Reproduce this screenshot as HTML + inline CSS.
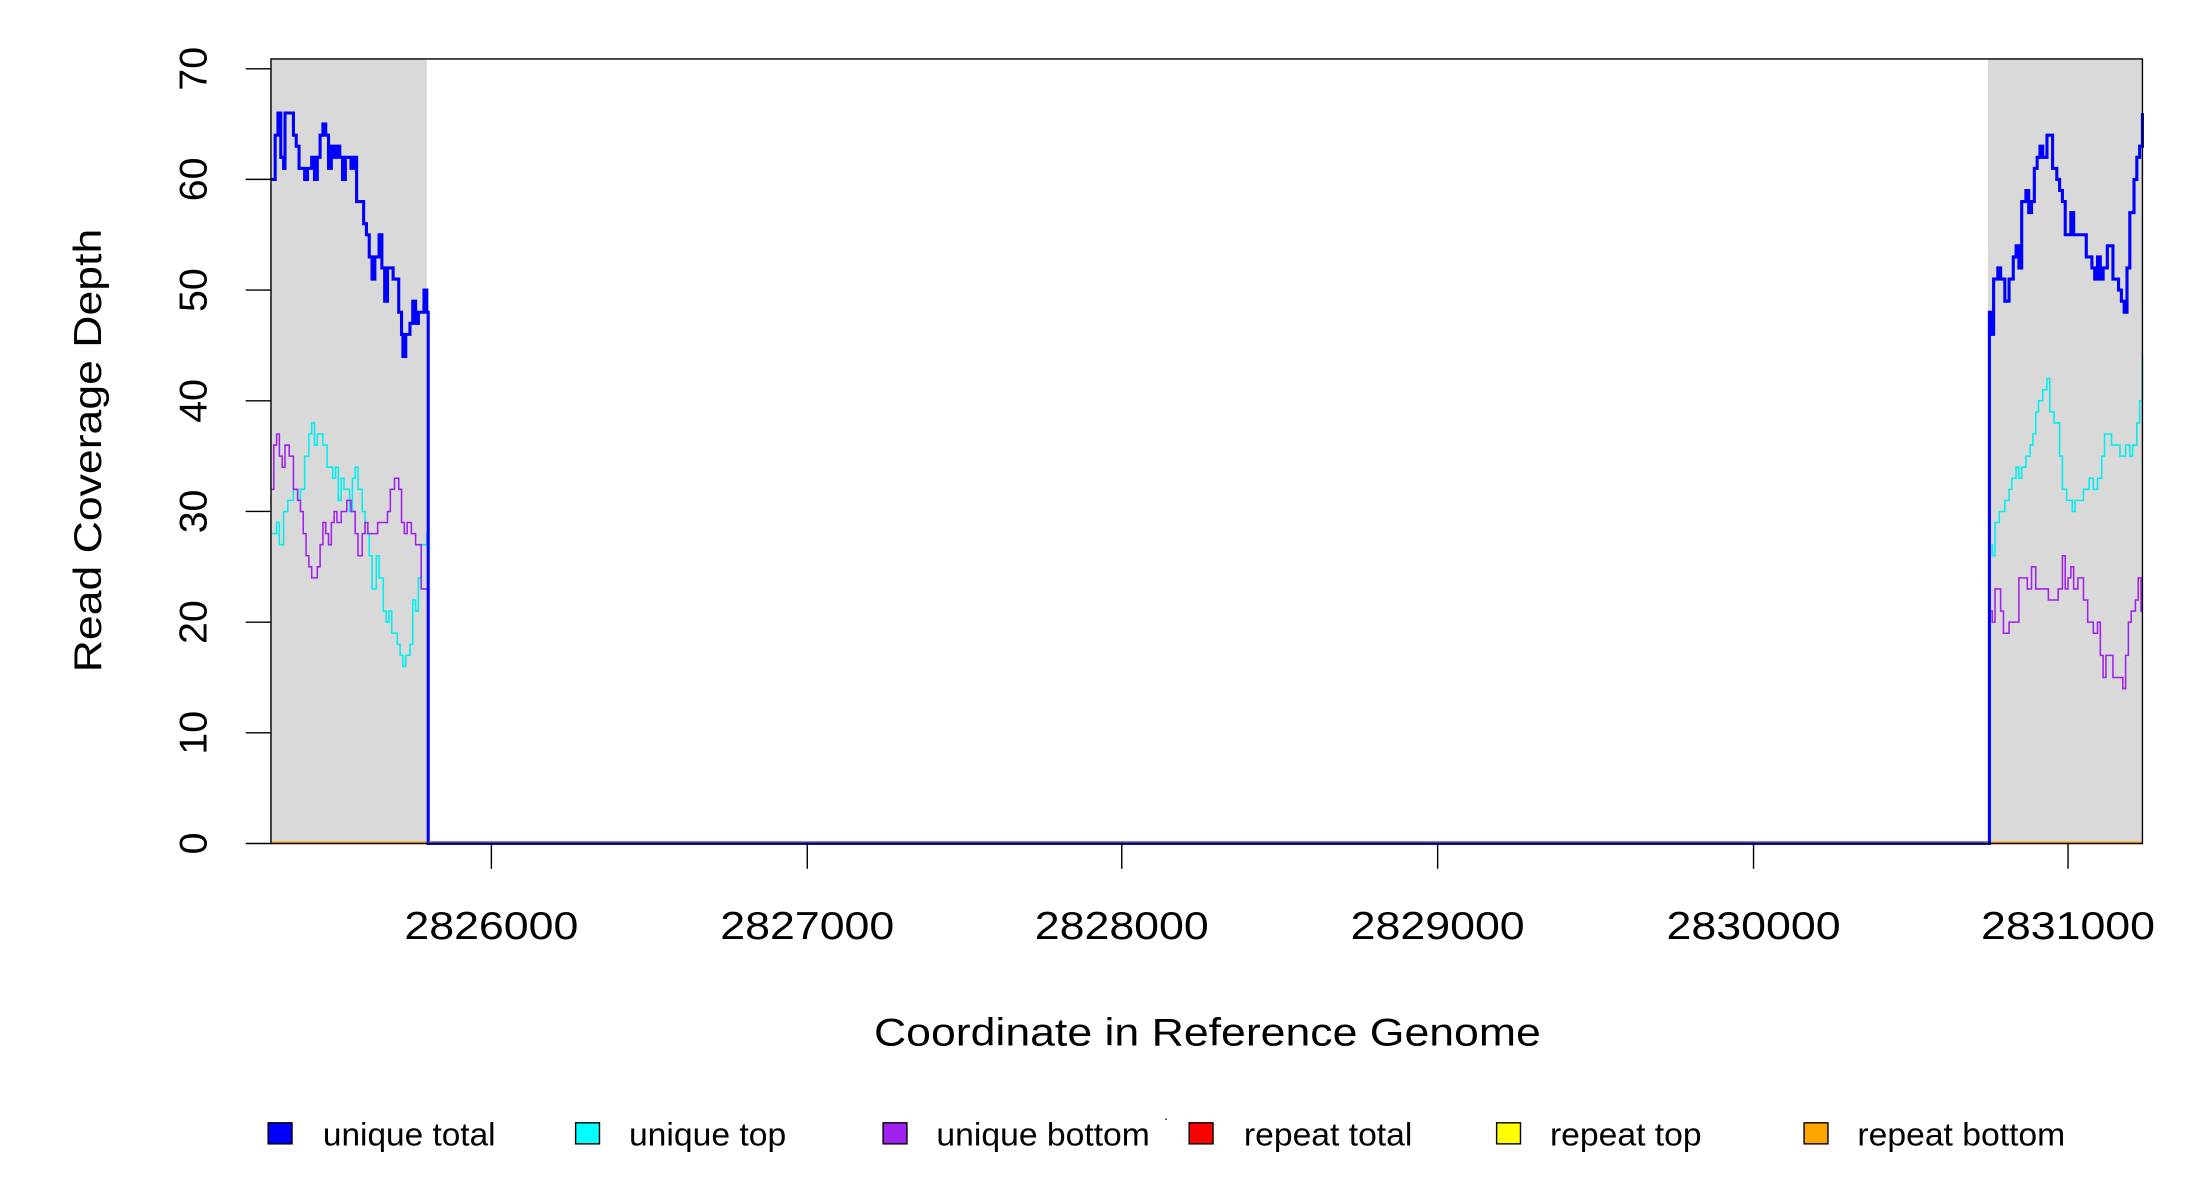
<!DOCTYPE html>
<html><head><meta charset="utf-8"><style>
html,body{margin:0;padding:0;background:#fff;}
svg{display:block;}
text{font-family:"Liberation Sans",sans-serif;fill:#000;}
</style></head><body>
<svg id="s" width="2200" height="1200" viewBox="0 0 1567 855" preserveAspectRatio="none" xmlns="http://www.w3.org/2000/svg">
<rect x="0" y="0" width="1567" height="855" fill="#fff"/>
<rect x="193" y="42" width="111" height="559" fill="#d9d9d9"/>
<rect x="1416" y="42" width="110" height="559" fill="#d9d9d9"/>
<g id="series"></g>
<rect x="193" y="42" width="1333" height="559" fill="none" stroke="#000" stroke-width="1"/>
<g stroke="#000" stroke-width="1">
<line x1="175" y1="601" x2="193" y2="601"/><line x1="175" y1="522.1" x2="193" y2="522.1"/>
<line x1="175" y1="443.3" x2="193" y2="443.3"/><line x1="175" y1="364.4" x2="193" y2="364.4"/>
<line x1="175" y1="285.6" x2="193" y2="285.6"/><line x1="175" y1="206.7" x2="193" y2="206.7"/>
<line x1="175" y1="127.8" x2="193" y2="127.8"/><line x1="175" y1="49" x2="193" y2="49"/>
<line x1="350" y1="601" x2="350" y2="619"/><line x1="575" y1="601" x2="575" y2="619"/>
<line x1="799" y1="601" x2="799" y2="619"/><line x1="1024" y1="601" x2="1024" y2="619"/>
<line x1="1249" y1="601" x2="1249" y2="619"/><line x1="1473" y1="601" x2="1473" y2="619"/>
</g>
<g font-size="28" text-anchor="middle">
<text transform="translate(147,601) rotate(-90)">0</text>
<text transform="translate(147,522.1) rotate(-90)">10</text>
<text transform="translate(147,443.3) rotate(-90)">20</text>
<text transform="translate(147,364.4) rotate(-90)">30</text>
<text transform="translate(147,285.6) rotate(-90)">40</text>
<text transform="translate(147,206.7) rotate(-90)">50</text>
<text transform="translate(147,127.8) rotate(-90)">60</text>
<text transform="translate(147,49) rotate(-90)">70</text>
<text transform="translate(72,321) rotate(-90)" textLength="316" lengthAdjust="spacingAndGlyphs">Read Coverage Depth</text>
</g>
<g font-size="28" text-anchor="middle">
<text x="350" y="669" textLength="124" lengthAdjust="spacingAndGlyphs">2826000</text>
<text x="575" y="669" textLength="124" lengthAdjust="spacingAndGlyphs">2827000</text>
<text x="799" y="669" textLength="124" lengthAdjust="spacingAndGlyphs">2828000</text>
<text x="1024" y="669" textLength="124" lengthAdjust="spacingAndGlyphs">2829000</text>
<text x="1249" y="669" textLength="124" lengthAdjust="spacingAndGlyphs">2830000</text>
<text x="1473" y="669" textLength="124" lengthAdjust="spacingAndGlyphs">2831000</text>
<text x="860" y="745" textLength="475" lengthAdjust="spacingAndGlyphs">Coordinate in Reference Genome</text>
</g>
<g stroke="#000" stroke-width="1">
<rect x="191" y="800" width="17" height="15" fill="#0000ff"/>
<rect x="410" y="800" width="17" height="15" fill="#00ffff"/>
<rect x="629" y="800" width="17" height="15" fill="#a020f0"/>
<rect x="847" y="800" width="17" height="15" fill="#ff0000"/>
<rect x="1066" y="800" width="17" height="15" fill="#ffff00"/>
<rect x="1285" y="800" width="17" height="15" fill="#ffa500"/>
</g>
<rect x="830" y="797" width="1" height="1" fill="#000"/>
<g font-size="23">
<text x="230" y="816" textLength="123" lengthAdjust="spacingAndGlyphs">unique total</text>
<text x="448" y="816" textLength="112" lengthAdjust="spacingAndGlyphs">unique top</text>
<text x="667" y="816" textLength="152" lengthAdjust="spacingAndGlyphs">unique bottom</text>
<text x="886" y="816" textLength="120" lengthAdjust="spacingAndGlyphs">repeat total</text>
<text x="1104" y="816" textLength="108" lengthAdjust="spacingAndGlyphs">repeat top</text>
<text x="1323" y="816" textLength="148" lengthAdjust="spacingAndGlyphs">repeat bottom</text>
</g>
</svg>
<script>
(function(){
var Y=function(v){return 601-v*7.886;};
function step(pts){var d="",i;for(i=0;i<pts.length;i++){var x=pts[i][0],y=Y(pts[i][1]);if(i==0)d+="M"+x+","+y;else d+="H"+x+"V"+y;}return d;}
var L={
blue:[[193,60],[196,64],[198,66],[200,62],[202,61],[203,66],[209,64],[211,63],[213,61],[217,60],[219,61],[222,62],[224,60],[226,62],[228,64],[230,65],[232,64],[234,61],[236,63],[238,62],[240,63],[242,62],[244,60],[246,62],[250,61],[252,62],[254,58],[259,56],[261,55],[263,53],[265,51],[267,53],[270,55],[272,52],[274,49],[276,52],[280,51],[284,48],[286,46],[287,44],[289,46],[292,47],[294,49],[296,47],[298,48],[302,50],[304,48],[305,0],[1416,0],[1417,48],[1418,46],[1420,51],[1423,52],[1425,51],[1428,49],[1431,51],[1434,53],[1436,54],[1438,52],[1440,58],[1443,59],[1445,57],[1447,58],[1449,61],[1451,62],[1453,63],[1455,62],[1458,64],[1462,61],[1465,60],[1467,59],[1469,58],[1471,55],[1475,57],[1477,55],[1479,55],[1486,53],[1490,52],[1492,51],[1494,53],[1496,51],[1498,52],[1501,54],[1505,51],[1509,50],[1511,49],[1513,48],[1515,52],[1517,57],[1520,60],[1522,62],[1524,63],[1526,66]],
cyan:[[193,28],[197,29],[199,27],[202,30],[205,31],[209,32],[212,31],[214,32],[217,35],[220,37],[222,38],[224,36],[226,37],[230,36],[233,34],[237,33],[239,34],[241,31],[243,33],[245,32],[249,30],[251,33],[253,34],[255,32],[258,30],[260,28],[263,26],[265,23],[268,26],[270,24],[273,21],[275,20],[277,21],[279,19],[283,18],[285,17],[287,16],[289,17],[292,18],[294,22],[296,21],[298,24],[300,27],[304,28],[305,0],[1416,0],[1417,27],[1419,26],[1421,29],[1424,30],[1428,31],[1431,32],[1433,33],[1436,34],[1438,33],[1440,34],[1443,35],[1446,36],[1448,37],[1450,39],[1452,40],[1455,41],[1458,42],[1460,39],[1463,38],[1467,35],[1469,32],[1472,31],[1476,30],[1478,31],[1484,32],[1488,33],[1491,32],[1494,33],[1497,35],[1499,37],[1504,36],[1510,35],[1514,36],[1517,35],[1519,36],[1522,38],[1524,40],[1526,44]],
purple:[[193,32],[195,36],[197,37],[199,35],[201,34],[203,36],[206,35],[209,32],[212,31],[214,30],[216,28],[218,26],[220,25],[222,24],[226,25],[228,27],[230,29],[232,28],[234,27],[236,29],[238,30],[240,29],[243,30],[247,31],[250,30],[253,28],[255,26],[258,28],[260,29],[262,28],[269,29],[276,30],[278,32],[281,33],[284,32],[286,29],[288,28],[290,29],[293,28],[296,27],[300,23],[304,23],[305,0],[1416,0],[1417,21],[1419,20],[1421,23],[1425,21],[1427,19],[1431,20],[1438,24],[1444,23],[1447,25],[1450,23],[1459,22],[1466,23],[1469,26],[1471,23],[1473,24],[1475,25],[1477,23],[1480,24],[1484,22],[1487,20],[1491,19],[1494,20],[1496,17],[1498,15],[1500,17],[1505,15],[1512,14],[1514,17],[1516,20],[1518,21],[1521,22],[1523,24],[1525,21],[1526,21]]
};
var g=document.getElementById("series"),ns="http://www.w3.org/2000/svg";
function add(d,c,w){var p=document.createElementNS(ns,"path");p.setAttribute("d",d);p.setAttribute("fill","none");p.setAttribute("stroke",c);p.setAttribute("stroke-width",w);g.appendChild(p);}
add("M193,600.5H305M1416,600.5H1526","#ffa500",2);
add(step(L.cyan),"#00eeee",1.1);
add(step(L.purple),"#a020f0",1.1);
add(step(L.blue),"#0000ff",2.2);
add("M305,600.5H1416","#5a4fe0",2.2);
})();
</script>
</body></html>
